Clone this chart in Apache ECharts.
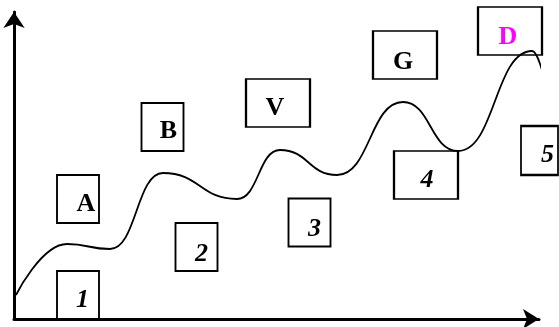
<!DOCTYPE html>
<html>
<head>
<meta charset="utf-8">
<script src="https://cdn.jsdelivr.net/npm/echarts@6/dist/echarts.min.js"></script>
<style>
html,body{margin:0;padding:0;background:#fff;}
#chart{width:559px;height:327px;}
</style>
</head>
<body>
<div id="chart"></div>
<script>
// Curve (data units: x to the right of origin, y above the x axis) - start, extrema, end
var curveX = [2, 53, 96, 149, 223, 266, 323, 389, 444, 518, 530];
var curveY = [24, 75, 70, 146, 120, 169, 144, 217, 168, 268, 241];

// Boxes: label text and centre position in the same data units
var boxLabels = ['1', 'A', '2', 'B', 'V', '3', 'G', '4', 'D', '5'];
var boxX = [64, 64, 182.5, 148.5, 264, 295.5, 391, 412, 496, 525.5];
var boxY = [24, 120, 72, 192, 216, 96.5, 264, 144, 288, 168.5];

// Styling (kept apart from the data)
var boxKind = ['num', 'let', 'num', 'let', 'let', 'num', 'let', 'num', 'let', 'num'];
var boxSize = [[42,48],[42,48],[42,48],[42,48],[64,48],[42,48],[64,48],[64,48],[64,48],[37,49]];
var labelOffset = [[4.5,5],[8,5],[5,7],[6,4],[-3,5],[5,7],[-2,7],[1,5.5],[-2,6],[8,4.5]];
var labelColor = ['#000','#000','#000','#000','#000','#000','#000','#000','#ff00ff','#000'];

var chart = echarts.init(document.getElementById('chart'), null, {renderer: 'canvas'});

var curveData = curveX.map(function (x, i) { return [x, curveY[i]]; });
var boxData = boxLabels.map(function (t, i) {
  return {
    name: t,
    value: [boxX[i], boxY[i]],
    symbolSize: boxSize[i],
    label: {
      offset: labelOffset[i],
      color: labelColor[i],
      fontStyle: boxKind[i] === 'num' ? 'italic' : 'normal'
    }
  };
});

chart.setOption({
  animation: false,
  backgroundColor: '#fff',
  grid: {left: 14, right: 20, top: 12, bottom: 8, containLabel: false},
  xAxis: {
    type: 'value', min: 0, max: 525,
    axisLine: {show: true, onZero: false, symbol: ['none', 'arrow'], symbolSize: [15, 16],
      lineStyle: {color: '#000', width: 3}},
    axisTick: {show: false}, axisLabel: {show: false}, splitLine: {show: false}
  },
  yAxis: {
    type: 'value', min: 0, max: 307,
    axisLine: {show: true, onZero: false, symbol: ['none', 'arrow'], symbolSize: [16, 16],
      lineStyle: {color: '#000', width: 3}},
    axisTick: {show: false}, axisLabel: {show: false}, splitLine: {show: false}
  },
  series: [
    {
      type: 'line',
      data: curveData,
      smooth: 0.5,
      smoothMonotone: 'x',
      showSymbol: false,
      clip: false,
      lineStyle: {color: '#000', width: 1.8},
      z: 3
    },
    {
      type: 'scatter',
      data: boxData,
      symbol: 'rect',
      clip: false,
      itemStyle: {color: 'rgba(0,0,0,0)', borderColor: '#000', borderWidth: 2, opacity: 1},
      label: {
        show: true,
        position: 'inside',
        formatter: '{b}',
        fontFamily: 'Liberation Serif',
        fontWeight: 'bold',
        fontSize: 26
      },
      emphasis: {disabled: true},
      z: 2
    }
  ]
});
</script>
</body>
</html>
